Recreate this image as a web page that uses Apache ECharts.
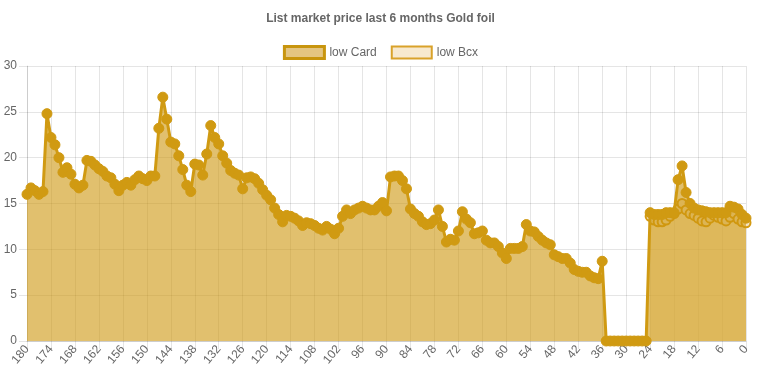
<!DOCTYPE html>
<html>
<head>
<meta charset="utf-8">
<script src="https://cdn.jsdelivr.net/npm/echarts@6/dist/echarts.min.js"></script>
<style>
html,body{margin:0;padding:0;background:#fff;}
#chart{width:761px;height:380px;}
</style>
</head>
<body>
<div id="chart"></div>
<script>
// Days before today (x axis categories), 180 ... 0
const dayLabels = [];
for (let d = 180; d >= 0; d--) dayLabels.push(String(d));

const yTicks = [0, 5, 10, 15, 20, 25, 30];

// low Card: values for days 180 -> 0
const lowCard = [
  16.0,16.7,16.4,16.0,16.3,24.8,22.2,21.4,20.0,18.4,
  18.9,18.2,17.1,16.7,17.0,19.7,19.6,19.2,18.8,18.5,
  18.0,17.8,17.1,16.4,17.0,17.3,17.0,17.6,18.0,17.7,
  17.5,18.0,18.0,23.2,26.6,24.2,21.7,21.5,20.2,18.7,
  17.0,16.3,19.3,19.2,18.1,20.4,23.5,22.2,21.5,20.2,
  19.4,18.6,18.3,18.1,16.6,17.8,17.9,17.7,17.2,16.5,
  15.9,15.4,14.5,13.8,13.0,13.7,13.6,13.4,13.1,12.6,
  12.9,12.8,12.6,12.3,12.1,12.5,12.2,11.7,12.3,13.6,
  14.3,13.9,14.3,14.5,14.7,14.5,14.3,14.3,14.7,15.1,
  14.2,17.9,18.0,18.0,17.5,16.6,14.4,13.9,13.6,13.0,
  12.7,12.8,13.2,14.3,12.5,10.8,11.1,11.0,12.0,14.1,
  13.3,12.9,11.7,11.8,12.0,11.0,10.7,10.7,10.3,9.6,
  9.0,10.1,10.1,10.1,10.3,12.7,12.0,11.9,11.4,11.0,
  10.7,10.5,9.4,9.2,9.0,9.0,8.5,7.8,7.6,7.5,
  7.5,7.1,6.9,6.8,8.7,
  0,0,0,0,0,0,0,0,0,0,0,
  14.0,13.8,13.8,13.8,14.0,14.0,14.0,17.6,19.1,16.2,
  15.0,14.5,14.3,14.2,14.1,14.0,14.0,14.0,14.0,14.0,
  14.7,14.6,14.4,13.8,13.4
];

// low Bcx: only the last 25 days (24 -> 0) are visible
const lowBcxRecent = [
  13.6,13.2,13.0,13.0,13.2,13.6,13.9,14.4,15.0,14.3,
  13.9,13.7,13.4,13.1,13.0,13.4,13.7,13.5,13.3,13.1,
  13.5,13.9,13.3,13.0,12.9
];
const lowBcx = new Array(dayLabels.length - lowBcxRecent.length).fill(null).concat(lowBcxRecent);

const chart = echarts.init(document.getElementById('chart'), null, {renderer: 'canvas'});
const gold = '#D09A12';
const font = '"Liberation Sans", Arial, Helvetica, sans-serif';

chart.setOption({
  animation: false,
  backgroundColor: '#fff',
  title: {
    text: 'List market price last 6 months Gold foil',
    left: 'center',
    top: 8,
    textStyle: {fontSize: 12, fontWeight: 'bold', color: '#666', fontFamily: font}
  },
  legend: {
    top: 40,
    left: 'center',
    itemWidth: 40,
    itemHeight: 12,
    itemGap: 14,
    textStyle: {fontSize: 12, color: '#666', fontFamily: font},
    data: [
      {name: 'low Card', icon: 'rect', itemStyle: {color: '#E4C582', borderColor: '#C8950E', borderWidth: 3}},
      {name: 'low Bcx', icon: 'rect', itemStyle: {color: '#F7E9CF', borderColor: '#D9A22A', borderWidth: 2}}
    ]
  },
  grid: {left: 27, right: 15, top: 66, bottom: 39, containLabel: false},
  xAxis: {
    type: 'category',
    data: dayLabels,
    boundaryGap: false,
    axisLine: {show: true, lineStyle: {color: 'rgba(0,0,0,0.1)'}},
    axisTick: {show: true, interval: 5, length: 8, lineStyle: {color: 'rgba(0,0,0,0.1)'}},
    axisLabel: {interval: 5, rotate: 50, fontSize: 12, color: '#666', fontFamily: font, margin: 6},
    splitLine: {show: true, interval: 5, lineStyle: {color: 'rgba(0,0,0,0.1)'}}
  },
  yAxis: {
    type: 'value',
    min: yTicks[0],
    max: yTicks[yTicks.length - 1],
    interval: 5,
    axisLine: {show: true, lineStyle: {color: 'rgba(0,0,0,0.1)'}},
    axisTick: {show: true, length: 8, lineStyle: {color: 'rgba(0,0,0,0.1)'}},
    axisLabel: {fontSize: 12, color: '#666', fontFamily: font, margin: 10},
    splitLine: {show: true, lineStyle: {color: 'rgba(0,0,0,0.1)'}}
  },
  series: [
    {
      name: 'low Card',
      type: 'line',
      z: 3,
      data: lowCard,
      symbol: 'circle',
      symbolSize: 10,
      showAllSymbol: true,
      lineStyle: {width: 3, color: gold},
      itemStyle: {color: gold, borderColor: gold, borderWidth: 1},
      areaStyle: {color: 'rgb(205,150,14)', opacity: 0.6, origin: 'start'}
    },
    {
      name: 'low Bcx',
      type: 'line',
      z: 2,
      data: lowBcx,
      symbol: 'circle',
      symbolSize: 9,
      showAllSymbol: true,
      lineStyle: {width: 2, color: '#D9A22A'},
      itemStyle: {color: '#F3E2BF', borderColor: '#D49A12', borderWidth: 2},
      areaStyle: {color: 'rgb(240,215,160)', opacity: 0.5, origin: 'start'}
    }
  ]
});
</script>
</body>
</html>
